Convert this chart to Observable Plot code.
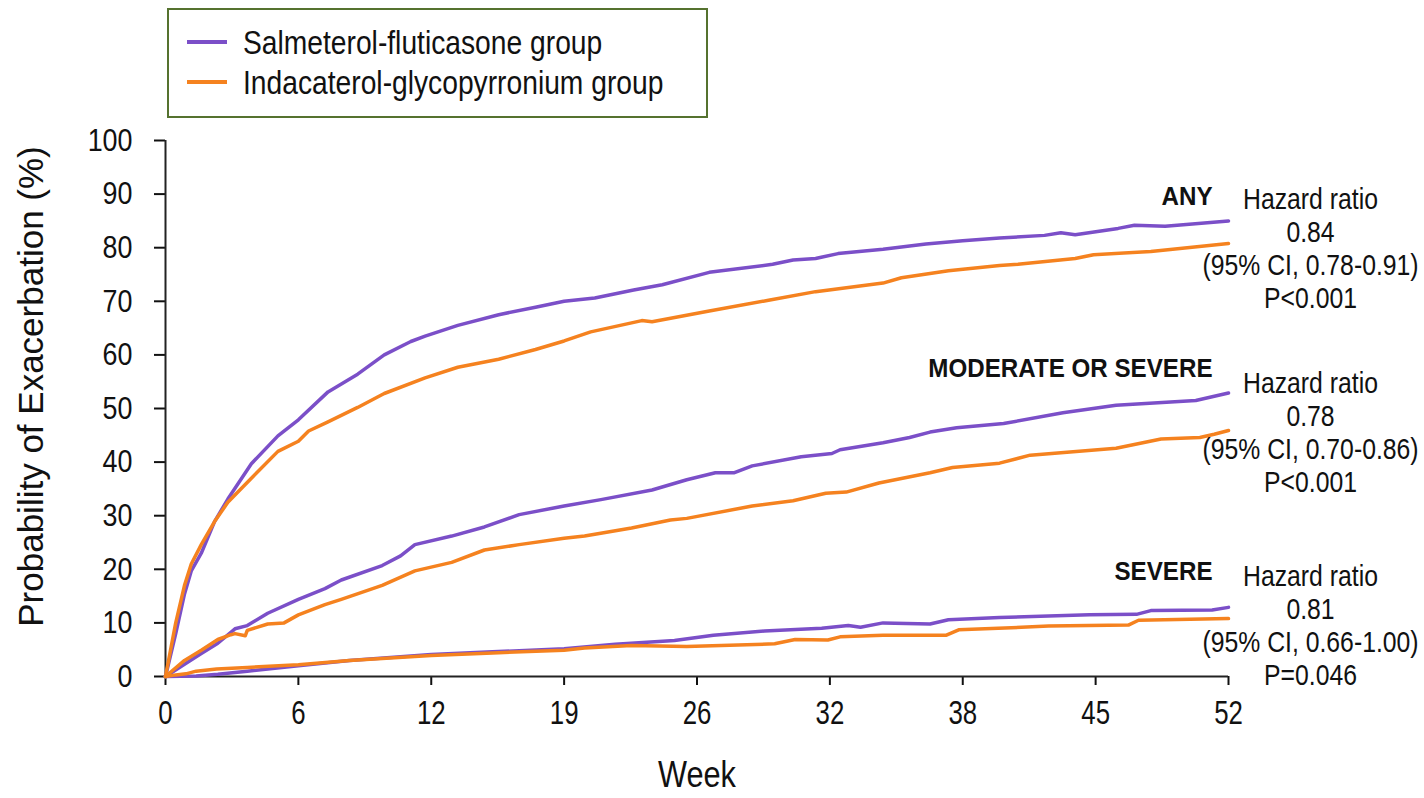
<!DOCTYPE html>
<html>
<head>
<meta charset="utf-8">
<script src="https://cdn.jsdelivr.net/npm/d3@7"></script>
<script src="https://cdn.jsdelivr.net/npm/@observablehq/plot@0.6"></script>
<style>
  html, body { margin: 0; padding: 0; background: #ffffff; }
  #wrap { position: relative; width: 1424px; height: 798px; overflow: hidden; }
  #legend {
    position: absolute; left: 167px; top: 8px; width: 541px; height: 110px;
    box-sizing: border-box; border: 2px solid #55722f; background: #fff;
    font-family: "Liberation Sans", Arial, sans-serif;
    font-size: 34px; color: #111;
  }
  .row { position: absolute; left: 18px; height: 40px; white-space: nowrap; }
  .swatch { position: absolute; left: 0; top: 18px; width: 40px; height: 4px; }
  .label { position: absolute; left: 56px; top: 0; line-height: 40px; display: inline-block;
           transform: scaleX(0.83); transform-origin: left center; white-space: nowrap; }
  #chart { position: absolute; left: 0; top: 0; }
</style>
</head>
<body>
<div id="wrap">
  <div id="chart"></div>
  <div id="legend"></div>
</div>
<script>
// ---------- data ----------
const seriesNames = ["Salmeterol-fluticasone group", "Indacaterol-glycopyrronium group"];
const seriesColors = ["#7b4fc8", "#f5821f"];

const weekTicks = [0, 6.5, 13, 19.5, 26, 32.5, 39, 45.5, 52];
const weekTickLabels = ["0", "6", "12", "19", "26", "32", "38", "45", "52"];
const probTicks = [0, 10, 20, 30, 40, 50, 60, 70, 80, 90, 100];

// ANY exacerbation
const anySalWeeks = [0, 0.5, 0.93, 1.26, 1.75, 2.4, 3.05, 4.2, 5.5, 6.5, 7.95, 9.4, 10.7, 12.0, 12.7, 14.3, 16.3, 18.1, 19.5, 21, 22.9, 24.3, 26.6, 29.7, 30.7, 31.8, 32.9, 35.1, 37.2, 39, 40.8, 43, 43.8, 44.5, 46.6, 47.4, 48.9, 52];
const anySalProb  = [0, 8, 15.4, 19.7, 23, 28.9, 33.1, 39.7, 44.9, 47.9, 53.1, 56.4, 60, 62.5, 63.5, 65.5, 67.5, 68.9, 70, 70.6, 72.1, 73.1, 75.4, 76.9, 77.7, 78, 78.9, 79.7, 80.7, 81.3, 81.8, 82.3, 82.8, 82.4, 83.6, 84.2, 84, 85];
const anyIndWeeks = [0, 0.5, 0.93, 1.26, 1.75, 2.4, 3.05, 4.2, 5.5, 6.5, 7.0, 7.95, 9.4, 10.7, 12.7, 14.3, 16.3, 18.1, 19.5, 20.8, 23.3, 23.8, 26.6, 29.5, 31.8, 35.1, 36, 38.3, 40.8, 41.7, 44.5, 45.4, 48.2, 52];
const anyIndProb  = [0, 10, 17, 21, 24.6, 28.9, 32.5, 37, 42, 43.9, 45.8, 47.5, 50.2, 52.8, 55.7, 57.7, 59.2, 61, 62.6, 64.3, 66.4, 66.2, 68.2, 70.2, 71.8, 73.4, 74.4, 75.7, 76.7, 76.9, 78, 78.7, 79.3, 80.8];

// MODERATE OR SEVERE exacerbation
const modSalWeeks = [0, 0.93, 1.75, 2.56, 3.4, 4.0, 5.0, 6.5, 7.8, 8.6, 10.6, 11.5, 12.2, 14, 15.6, 17.3, 19.5, 21.3, 23.8, 25.5, 26.9, 27.8, 28.7, 31.1, 32.6, 33, 35.1, 36.4, 37.4, 38.7, 41, 43.9, 46.5, 50.4, 52];
const modSalProb  = [0, 2.3, 4.3, 6.2, 8.9, 9.5, 11.8, 14.4, 16.4, 18, 20.7, 22.5, 24.6, 26.2, 27.9, 30.2, 31.8, 33, 34.8, 36.7, 38, 38, 39.3, 41, 41.6, 42.3, 43.6, 44.6, 45.6, 46.4, 47.2, 49.2, 50.6, 51.5, 52.9];
const modIndWeeks = [0, 0.93, 1.75, 2.56, 3.2, 3.4, 3.9, 4.0, 5.0, 5.8, 6.5, 7.8, 8.6, 10.6, 12.2, 14, 15.6, 17.3, 19.5, 20.5, 22.8, 24.7, 25.5, 28.7, 30.7, 32.3, 33.3, 34.9, 37.4, 38.5, 40.8, 42.3, 46.5, 48.7, 50.6, 51.3, 52];
const modIndProb  = [0, 3, 4.9, 6.9, 7.8, 8.0, 7.6, 8.6, 9.8, 10.0, 11.5, 13.4, 14.4, 17, 19.7, 21.3, 23.6, 24.6, 25.8, 26.2, 27.7, 29.2, 29.5, 31.8, 32.8, 34.2, 34.4, 36.1, 38, 39, 39.8, 41.3, 42.6, 44.3, 44.6, 45.2, 45.9];

// SEVERE exacerbation
const sevSalWeeks = [0, 1.5, 2.56, 4, 6.5, 9, 13, 16, 19.5, 21.3, 22, 24.9, 26.8, 29.3, 32.1, 33.4, 34, 35.1, 37.4, 38.3, 40.8, 45.2, 47.5, 48.2, 51.2, 52];
const sevSalProb  = [0, 0.1, 0.4, 1.0, 2.0, 3.0, 4.1, 4.6, 5.2, 5.8, 6.0, 6.7, 7.7, 8.5, 9.0, 9.5, 9.2, 10, 9.8, 10.6, 11, 11.5, 11.6, 12.3, 12.4, 12.9];
const sevIndWeeks = [0, 0.5, 1, 1.5, 2.5, 4, 6.5, 9, 13, 16, 19.5, 20.5, 22.8, 25.5, 29.8, 30.8, 32.4, 33, 35.1, 38.2, 38.8, 43.2, 47.1, 47.6, 52];
const sevIndProb  = [0, 0.3, 0.5, 1.0, 1.4, 1.7, 2.2, 3.0, 3.9, 4.4, 4.9, 5.3, 5.8, 5.6, 6.1, 6.9, 6.8, 7.4, 7.7, 7.7, 8.7, 9.4, 9.6, 10.5, 10.8];

// annotations
const endpointLabels = ["ANY", "MODERATE OR SEVERE", "SEVERE"];
const endpointLabelProb = [89.6, 57.4, 19.6];
const hazardTexts = [
  "Hazard ratio\n0.84\n(95% CI, 0.78-0.91)\nP<0.001",
  "Hazard ratio\n0.78\n(95% CI, 0.70-0.86)\nP<0.001",
  "Hazard ratio\n0.81\n(95% CI, 0.66-1.00)\nP=0.046"
];
const hazardProb = [80.0, 45.6, 9.6];
const yLabel = "Probability of Exacerbation (%)";
const xLabel = "Week";

// ---------- build table ----------
function rows(weeks, probs, group, endpoint) {
  return weeks.map((w, i) => ({ week: w, prob: probs[i], group, endpoint }));
}
const lines = [
  ...rows(anySalWeeks, anySalProb, seriesNames[0], "any"),
  ...rows(modSalWeeks, modSalProb, seriesNames[0], "mod"),
  ...rows(sevSalWeeks, sevSalProb, seriesNames[0], "sev"),
  ...rows(anyIndWeeks, anyIndProb, seriesNames[1], "any"),
  ...rows(modIndWeeks, modIndProb, seriesNames[1], "mod"),
  ...rows(sevIndWeeks, sevIndProb, seriesNames[1], "sev")
];
const endLabels = endpointLabels.map((t, i) => ({ text: t, prob: endpointLabelProb[i], week: 52 }));
const hazards = hazardTexts.map((t, i) => ({ text: t, prob: hazardProb[i], week: 52 }));

const FONT = '"Liberation Sans", Arial, sans-serif';

const chart = Plot.plot({
  width: 1424,
  height: 798,
  marginLeft: 165,
  marginRight: 196,
  marginTop: 140,
  marginBottom: 122,
  style: { fontFamily: FONT, background: "transparent", color: "#111", overflow: "visible" },
  x: { domain: [0, 52] },
  y: { domain: [0, 100] },
  color: { domain: seriesNames, range: seriesColors },
  marks: [
    Plot.axisX({
      ticks: weekTicks,
      tickFormat: d => weekTickLabels[weekTicks.indexOf(d)],
      tickSize: 9, tickPadding: 14, fontSize: 34, strokeWidth: 2,
      label: null
    }),
    Plot.axisY({
      ticks: probTicks, tickSize: 11, tickPadding: 22, fontSize: 32, strokeWidth: 2,
      label: null
    }),
    Plot.text([yLabel], {
      frameAnchor: "left", text: d => d, rotate: -90, dx: -147, dy: -22,
      lineAnchor: "top", textAnchor: "middle", fontSize: 35, fill: "#111"
    }),
    Plot.text([xLabel], {
      frameAnchor: "bottom", text: d => d, dy: 99,
      lineAnchor: "middle", textAnchor: "middle", fontSize: 37, fill: "#111"
    }),
    Plot.ruleX([0], { y1: 0, y2: 100, stroke: "#222", strokeWidth: 2 }),
    Plot.ruleY([0], { x1: 0, x2: 52, stroke: "#222", strokeWidth: 2 }),
    Plot.line(lines, {
      x: "week", y: "prob", z: d => d.group + d.endpoint, stroke: "group",
      strokeWidth: 3.5, curve: "linear", strokeLinejoin: "round"
    }),
    Plot.text(endLabels, {
      x: "week", y: "prob", text: "text", textAnchor: "end", dx: -16,
      fontWeight: "bold", fontSize: 26, fill: "#111"
    }),
    Plot.text(hazards, {
      x: "week", y: "prob", text: "text", textAnchor: "middle", dx: 82,
      lineAnchor: "middle", lineHeight: 1.12, fontSize: 29.5, fill: "#111"
    })
  ]
});
document.getElementById("chart").appendChild(chart);

// narrow (condensed) look of the original lettering: squeeze text horizontally about its anchor
function squeeze(nodes, s) {
  nodes.forEach(t => {
    const tr = t.getAttribute("transform") || "";
    t.setAttribute("transform", (tr + ` scale(${s},1)`).trim());
  });
}
squeeze(chart.querySelectorAll('g[aria-label="x-axis tick label"] text'), 0.76);
squeeze(chart.querySelectorAll('g[aria-label="y-axis tick label"] text'), 0.84);
const textGroups = chart.querySelectorAll('g[aria-label="text"]');
if (textGroups[1]) squeeze(textGroups[1].querySelectorAll("text"), 0.83);
if (textGroups[2]) squeeze(textGroups[2].querySelectorAll("text"), 0.93);
if (textGroups[3]) squeeze(textGroups[3].querySelectorAll("text"), 0.84);

// legend (HTML, above the plot area)
const legend = document.getElementById("legend");
seriesNames.forEach((name, i) => {
  const row = document.createElement("div");
  row.className = "row";
  row.style.top = (12 + i * 40) + "px";
  const sw = document.createElement("span");
  sw.className = "swatch";
  sw.style.background = seriesColors[i];
  const tx = document.createElement("span");
  tx.className = "label";
  tx.textContent = name;
  row.appendChild(sw);
  row.appendChild(tx);
  legend.appendChild(row);
});
</script>
</body>
</html>
